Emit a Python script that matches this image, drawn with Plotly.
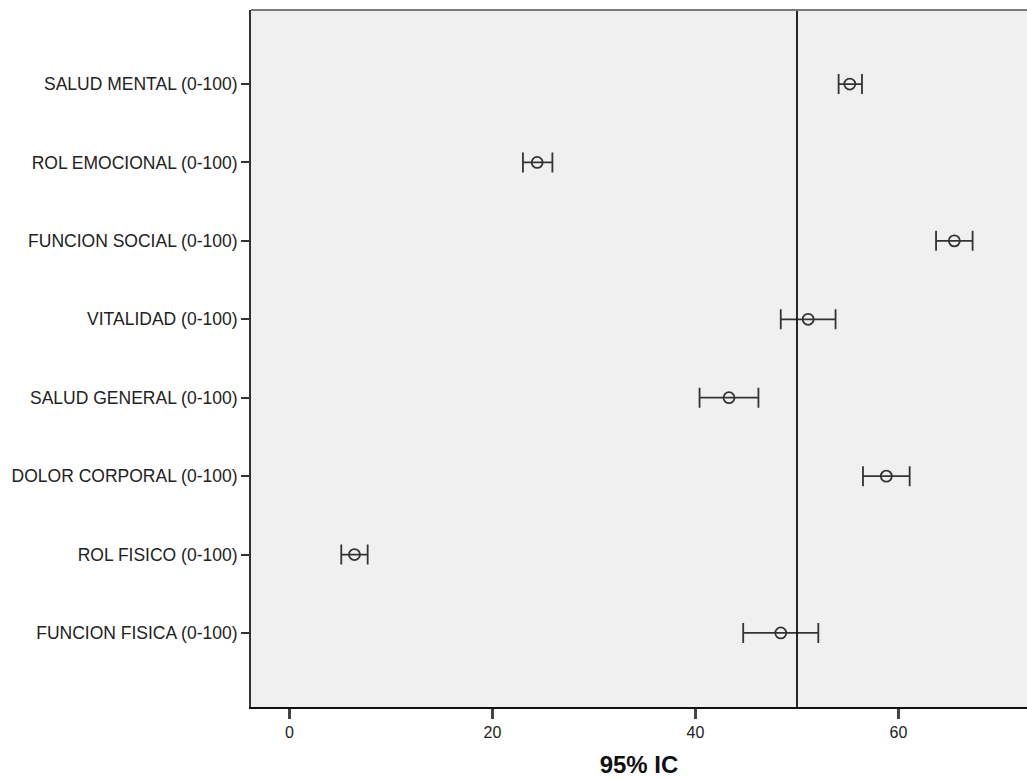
import plotly.graph_objects as go

categories = ["FUNCION FISICA (0-100)", "ROL FISICO (0-100)", "DOLOR CORPORAL (0-100)",
              "SALUD GENERAL (0-100)", "VITALIDAD (0-100)", "FUNCION SOCIAL (0-100)",
              "ROL EMOCIONAL (0-100)", "SALUD MENTAL (0-100)"]
means = [48.4, 6.4, 58.8, 43.3, 51.1, 65.5, 24.4, 55.2]
lower = [44.7, 5.1, 56.5, 40.4, 48.4, 63.7, 23.0, 54.1]
upper = [52.1, 7.7, 61.1, 46.2, 53.8, 67.3, 25.9, 56.4]
reference_value = 50
x_ticks = [0, 20, 40, 60]

ypos = list(range(len(categories)))
err_plus = [u - m for u, m in zip(upper, means)]
err_minus = [m - l for m, l in zip(means, lower)]

fig = go.Figure()
fig.add_trace(go.Scatter(
    x=means, y=ypos, mode="markers",
    marker=dict(symbol="circle-open", size=11, color="#333333", line=dict(width=1.8, color="#333333")),
    error_x=dict(type="data", symmetric=False, array=err_plus, arrayminus=err_minus,
                 color="#333333", thickness=1.8, width=10),
    showlegend=False, hoverinfo="skip",
))

fig.add_shape(type="line", xref="x", yref="paper", x0=reference_value, x1=reference_value,
              y0=0, y1=1, line=dict(color="#111111", width=1.8), layer="above")
fig.add_shape(type="line", xref="paper", yref="paper", x0=0, x1=1, y0=1, y1=1,
              line=dict(color="#7a7a7a", width=2), layer="above")

fig.update_layout(
    width=1027, height=778,
    margin=dict(l=251, r=0, t=10, b=71),
    paper_bgcolor="white", plot_bgcolor="#F0F0F0",
    font=dict(family="Liberation Sans, Arial, sans-serif", color="#222222"),
)
fig.update_xaxes(
    range=[(251 - 289.5) / 10.15, (1027 - 289.5) / 10.15],
    tickvals=x_ticks, ticktext=[str(v) for v in x_ticks],
    ticks="outside", ticklen=10, tickwidth=2.5, tickcolor="#444444",
    showgrid=False, zeroline=False,
    showline=True, linecolor="#111111", linewidth=2,
    tickfont=dict(family="Liberation Sans, Arial, sans-serif", size=16, color="#222222"),
    title=dict(text="<b>95% IC</b>", font=dict(family="Liberation Sans, Arial, sans-serif", size=24, color="#111111"), standoff=18),
)
fig.update_yaxes(
    range=[-0.944, 7.944],
    tickvals=ypos, ticktext=categories,
    ticks="outside", ticklen=8, tickwidth=2, tickcolor="#333333",
    showgrid=False, zeroline=False,
    showline=True, linecolor="#333333", linewidth=2,
    tickfont=dict(family="Liberation Sans, Arial, sans-serif", size=17.5, color="#222222"),
)

fig.write_html("out.html", config={"displayModeBar": False},
               post_script="document.body.style.margin='0';document.body.style.overflow='hidden';")
